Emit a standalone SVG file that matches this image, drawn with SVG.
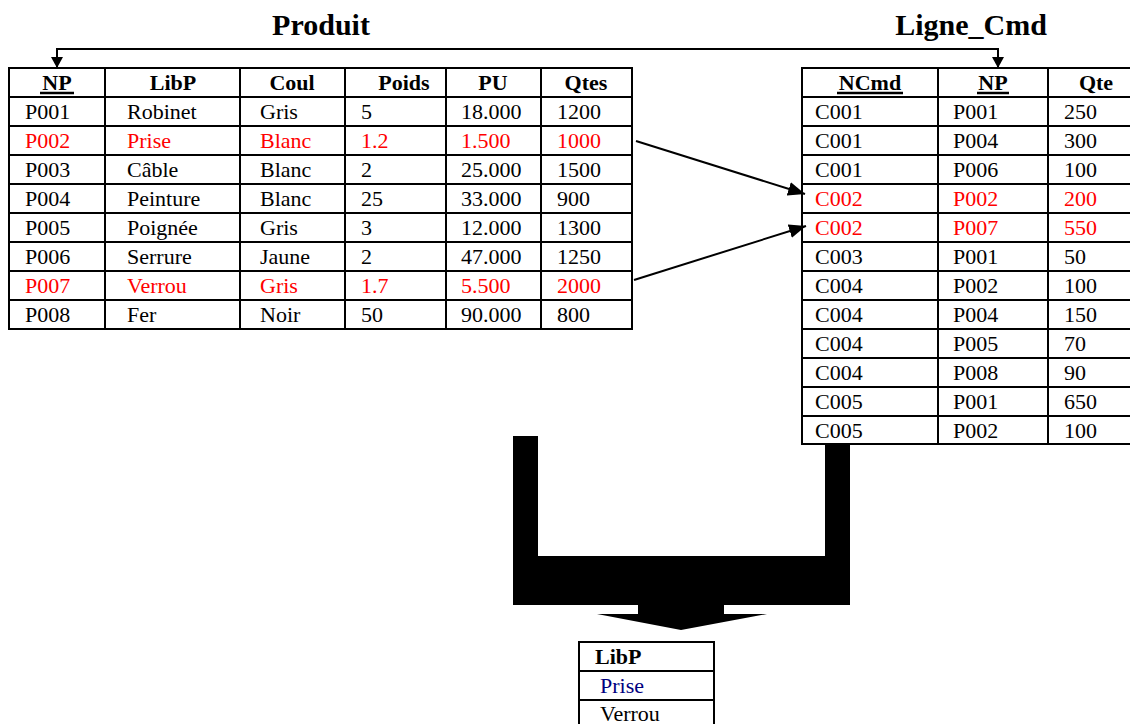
<svg xmlns="http://www.w3.org/2000/svg" width="1130" height="724" viewBox="0 0 1130 724">
<style>
text{font-family:"Liberation Serif","Times New Roman",serif;font-size:22px;fill:#000}
.h{font-weight:bold;text-anchor:middle}
.t{font-weight:bold;font-size:30px;text-anchor:middle}
.r{fill:#ff0000}
.b{fill:#000080}
.g{stroke:#000;stroke-width:2;fill:none}
.u{stroke:#000;stroke-width:2.5}
.c{stroke:#000;stroke-width:2;fill:none}
</style>
<defs>
<marker id="sm" markerWidth="11" markerHeight="12" refX="11" refY="6" orient="auto-start-reverse" markerUnits="userSpaceOnUse" viewBox="0 0 11 12"><path d="M0,0 L11,6 L0,12 Z" fill="#000"/></marker>
<marker id="lg" markerWidth="17" markerHeight="14" refX="17" refY="7" orient="auto" markerUnits="userSpaceOnUse" viewBox="0 0 17 14"><path d="M0,0 L17,7 L0,14 Z" fill="#000"/></marker>
</defs>
<g id="titles">
<text class="t" x="321" y="35">Produit</text>
<text class="t" x="971" y="35">Ligne_Cmd</text>
</g>
<g id="produit">
<rect class="g" x="9" y="68" width="623" height="261"/>
<path class="g" d="M9,97H632M9,126H632M9,155H632M9,184H632M9,213H632M9,242H632M9,271H632M9,300H632M105,68V329M240,68V329M345,68V329M446,68V329M541,68V329"/>
<text class="h" x="57" y="90">NP</text>
<line class="u" x1="40" y1="93" x2="74" y2="93"/>
<text class="h" x="173" y="90">LibP</text>
<text class="h" x="292" y="90">Coul</text>
<text class="h" x="404" y="90">Poids</text>
<text class="h" x="493" y="90">PU</text>
<text class="h" x="586" y="90">Qtes</text>
<g><text x="25" y="119">P001</text><text x="127" y="119">Robinet</text><text x="260" y="119">Gris</text><text x="361" y="119">5</text><text x="461" y="119">18.000</text><text x="557" y="119">1200</text></g>
<g><text class="r" x="25" y="148">P002</text><text class="r" x="127" y="148">Prise</text><text class="r" x="260" y="148">Blanc</text><text class="r" x="361" y="148">1.2</text><text class="r" x="461" y="148">1.500</text><text class="r" x="557" y="148">1000</text></g>
<g><text x="25" y="177">P003</text><text x="127" y="177">Câble</text><text x="260" y="177">Blanc</text><text x="361" y="177">2</text><text x="461" y="177">25.000</text><text x="557" y="177">1500</text></g>
<g><text x="25" y="206">P004</text><text x="127" y="206">Peinture</text><text x="260" y="206">Blanc</text><text x="361" y="206">25</text><text x="461" y="206">33.000</text><text x="557" y="206">900</text></g>
<g><text x="25" y="235">P005</text><text x="127" y="235">Poignée</text><text x="260" y="235">Gris</text><text x="361" y="235">3</text><text x="461" y="235">12.000</text><text x="557" y="235">1300</text></g>
<g><text x="25" y="264">P006</text><text x="127" y="264">Serrure</text><text x="260" y="264">Jaune</text><text x="361" y="264">2</text><text x="461" y="264">47.000</text><text x="557" y="264">1250</text></g>
<g><text class="r" x="25" y="293">P007</text><text class="r" x="127" y="293">Verrou</text><text class="r" x="260" y="293">Gris</text><text class="r" x="361" y="293">1.7</text><text class="r" x="461" y="293">5.500</text><text class="r" x="557" y="293">2000</text></g>
<g><text x="25" y="322">P008</text><text x="127" y="322">Fer</text><text x="260" y="322">Noir</text><text x="361" y="322">50</text><text x="461" y="322">90.000</text><text x="557" y="322">800</text></g>
</g>
<g id="ligne_cmd">
<path class="g" d="M1134,68H802V444H1134M802,97H1134M802,126H1134M802,155H1134M802,184H1134M802,213H1134M802,242H1134M802,271H1134M802,300H1134M802,329H1134M802,358H1134M802,387H1134M802,416H1134M938,68V444M1048,68V444"/>
<text class="h" x="870" y="90">NCmd</text>
<line class="u" x1="837" y1="93" x2="903" y2="93"/>
<text class="h" x="993" y="90">NP</text>
<line class="u" x1="977" y1="93" x2="1009" y2="93"/>
<text class="h" x="1096" y="90">Qte</text>
<text x="815" y="119">C001</text><text x="953" y="119">P001</text><text x="1064" y="119">250</text>
<text x="815" y="148">C001</text><text x="953" y="148">P004</text><text x="1064" y="148">300</text>
<text x="815" y="177">C001</text><text x="953" y="177">P006</text><text x="1064" y="177">100</text>
<text class="r" x="815" y="206">C002</text><text class="r" x="953" y="206">P002</text><text class="r" x="1064" y="206">200</text>
<text class="r" x="815" y="235">C002</text><text class="r" x="953" y="235">P007</text><text class="r" x="1064" y="235">550</text>
<text x="815" y="264">C003</text><text x="953" y="264">P001</text><text x="1064" y="264">50</text>
<text x="815" y="293">C004</text><text x="953" y="293">P002</text><text x="1064" y="293">100</text>
<text x="815" y="322">C004</text><text x="953" y="322">P004</text><text x="1064" y="322">150</text>
<text x="815" y="351">C004</text><text x="953" y="351">P005</text><text x="1064" y="351">70</text>
<text x="815" y="380">C004</text><text x="953" y="380">P008</text><text x="1064" y="380">90</text>
<text x="815" y="409">C005</text><text x="953" y="409">P001</text><text x="1064" y="409">650</text>
<text x="815" y="438">C005</text><text x="953" y="438">P002</text><text x="1064" y="438">100</text>
</g>
<g id="result">
<rect class="g" x="579" y="642" width="135" height="90"/>
<path class="g" d="M579,671H714M579,700H714"/>
<text x="595" y="664" font-weight="bold">LibP</text>
<text class="b" x="600" y="693">Prise</text>
<text x="600" y="721">Verrou</text>
</g>
<g id="join_arrow">
<path d="M513,436H538V556H825V445H850V605H724V614H767L681,630L597,614H638V605H513Z" fill="#000"/>
</g>
<g id="connectors">
<path class="c" d="M57,68V49H998V68" marker-start="url(#sm)" marker-end="url(#sm)"/>
<line class="c" x1="636" y1="141" x2="805" y2="194" marker-end="url(#lg)"/>
<line class="c" x1="634" y1="280" x2="806" y2="226" marker-end="url(#lg)"/>
</g>
</svg>
